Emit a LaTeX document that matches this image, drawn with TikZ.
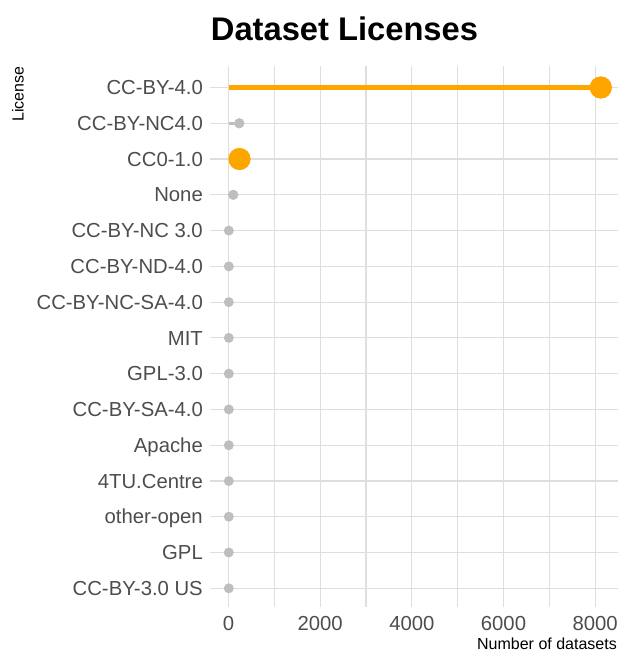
\documentclass[tikz,border=0pt]{standalone}
\usepackage{fontspec}
\setmainfont{Liberation Sans}
\usepackage{xcolor}
\usepackage{tikz}
\usetikzlibrary{positioning}
\definecolor{LicOrange}{RGB}{255,165,0}
\definecolor{LicGray}{RGB}{190,190,190}
\definecolor{GridGray}{RGB}{222,222,222}
\definecolor{TickGray}{RGB}{77,77,77}

\begin{document}
\begin{tikzpicture}[x=1pt,y=-1pt,
gridline/.style={draw=GridGray,line width=1.1pt},
lic/.style={anchor=east,text=TickGray,text height=14.3pt,text depth=0pt,inner sep=0pt,font=\fontsize{20.3}{24}\selectfont},
xlab/.style={anchor=base,text=TickGray,inner sep=0pt,font=\fontsize{20.3}{24}\selectfont},
axtitle/.style={inner sep=0pt,font=\fontsize{16}{19}\selectfont},
dotg/.style={circle,fill=LicGray,inner sep=0pt,minimum size=10pt},
doto/.style={circle,fill=LicOrange,inner sep=0pt,minimum size=22pt},
stemg/.style={draw=LicGray,line width=3.5pt},
stemo/.style={draw=LicOrange,line width=5pt}]
\useasboundingbox (0,0) rectangle (618,651);
% grid
\foreach \gx in {228.5,274.3,320.2,366.0,411.9,457.7,503.5,549.4,595.2}
  \draw[gridline] (\gx,66) -- (\gx,607);
\foreach \gy in {87.5,123.3,159.0,194.8,230.6,266.4,302.1,337.9,373.7,409.4,445.2,481.0,516.7,552.5,588.3}
  \draw[gridline] (210,\gy) -- (618,\gy);
% title and axis titles
\node[anchor=base,inner sep=0pt,font=\fontsize{32.7}{38}\selectfont\bfseries] (title) at (344.5,40) {Dataset Licenses};
\node[axtitle,rotate=90,anchor=base] (ylab) at (23.5,94.2) {License};
\node[axtitle,anchor=base east] (xtitle) at (617,649) {Number of datasets};
% x ticks
\node[xlab] (x0) at (228.5,630) {0};
\node[xlab] (x2) at (320.2,630) {2000};
\node[xlab] (x4) at (411.9,630) {4000};
\node[xlab] (x6) at (503.5,630) {6000};
\node[xlab] (x8) at (595.2,630) {8000};
% licenses
\node[lic] (l1) at (203,87.5) {CC-BY-4.0};
\node[lic] (l2) at (203,123.3) {CC-BY-NC4.0};
\node[lic] (l3) at (203,159.0) {CC0-1.0};
\node[lic] (l4) at (203,194.8) {None};
\node[lic] (l5) at (203,230.6) {CC-BY-NC 3.0};
\node[lic] (l6) at (203,266.4) {CC-BY-ND-4.0};
\node[lic] (l7) at (203,302.1) {CC-BY-NC-SA-4.0};
\node[lic] (l8) at (203,337.9) {MIT};
\node[lic] (l9) at (203,373.7) {GPL-3.0};
\node[lic] (l10) at (203,409.4) {CC-BY-SA-4.0};
\node[lic] (l11) at (203,445.2) {Apache};
\node[lic] (l12) at (203,481.0) {4TU.Centre};
\node[lic] (l13) at (203,516.7) {other-open};
\node[lic] (l14) at (203,552.5) {GPL};
\node[lic] (l15) at (203,588.3) {CC-BY-3.0 US};
% stems start at zero
\coordinate (z1) at (228.5,87.5); \coordinate (z2) at (228.5,123.3); \coordinate (z3) at (228.5,159.0);
\coordinate (z4) at (228.5,194.8); \coordinate (z5) at (228.5,230.6); \coordinate (z6) at (228.5,266.4);
\coordinate (z7) at (228.5,302.1); \coordinate (z8) at (228.5,337.9); \coordinate (z9) at (228.5,373.7);
\coordinate (z10) at (228.5,409.4); \coordinate (z11) at (228.5,445.2); \coordinate (z12) at (228.5,481.0);
\coordinate (z13) at (228.5,516.7); \coordinate (z14) at (228.5,552.5); \coordinate (z15) at (228.5,588.3);
% points
\node[doto] (d1) at (600.8,87.5) {};
\node[dotg] (d2) at (239.3,123.3) {};
\node[doto] (d3) at (239.5,159.0) {};
\node[dotg] (d4) at (233.3,194.8) {};
\node[dotg] (d5) at (228.8,230.6) {};
\node[dotg] (d6) at (228.8,266.4) {};
\node[dotg] (d7) at (228.8,302.1) {};
\node[dotg] (d8) at (228.8,337.9) {};
\node[dotg] (d9) at (228.8,373.7) {};
\node[dotg] (d10) at (228.8,409.4) {};
\node[dotg] (d11) at (228.8,445.2) {};
\node[dotg] (d12) at (228.8,481.0) {};
\node[dotg] (d13) at (228.8,516.7) {};
\node[dotg] (d14) at (228.8,552.5) {};
\node[dotg] (d15) at (228.8,588.3) {};
\draw[stemo] (z1)--(d1.center); \draw[stemg] (z2)--(d2.center); \draw[stemo] (z3)--(d3.center); \draw[stemg] (z4)--(d4.center);
\node[doto] at (d1.center) {}; \node[dotg] at (d2.center) {}; \node[doto] at (d3.center) {}; \node[dotg] at (d4.center) {};
\end{tikzpicture}
\end{document}
